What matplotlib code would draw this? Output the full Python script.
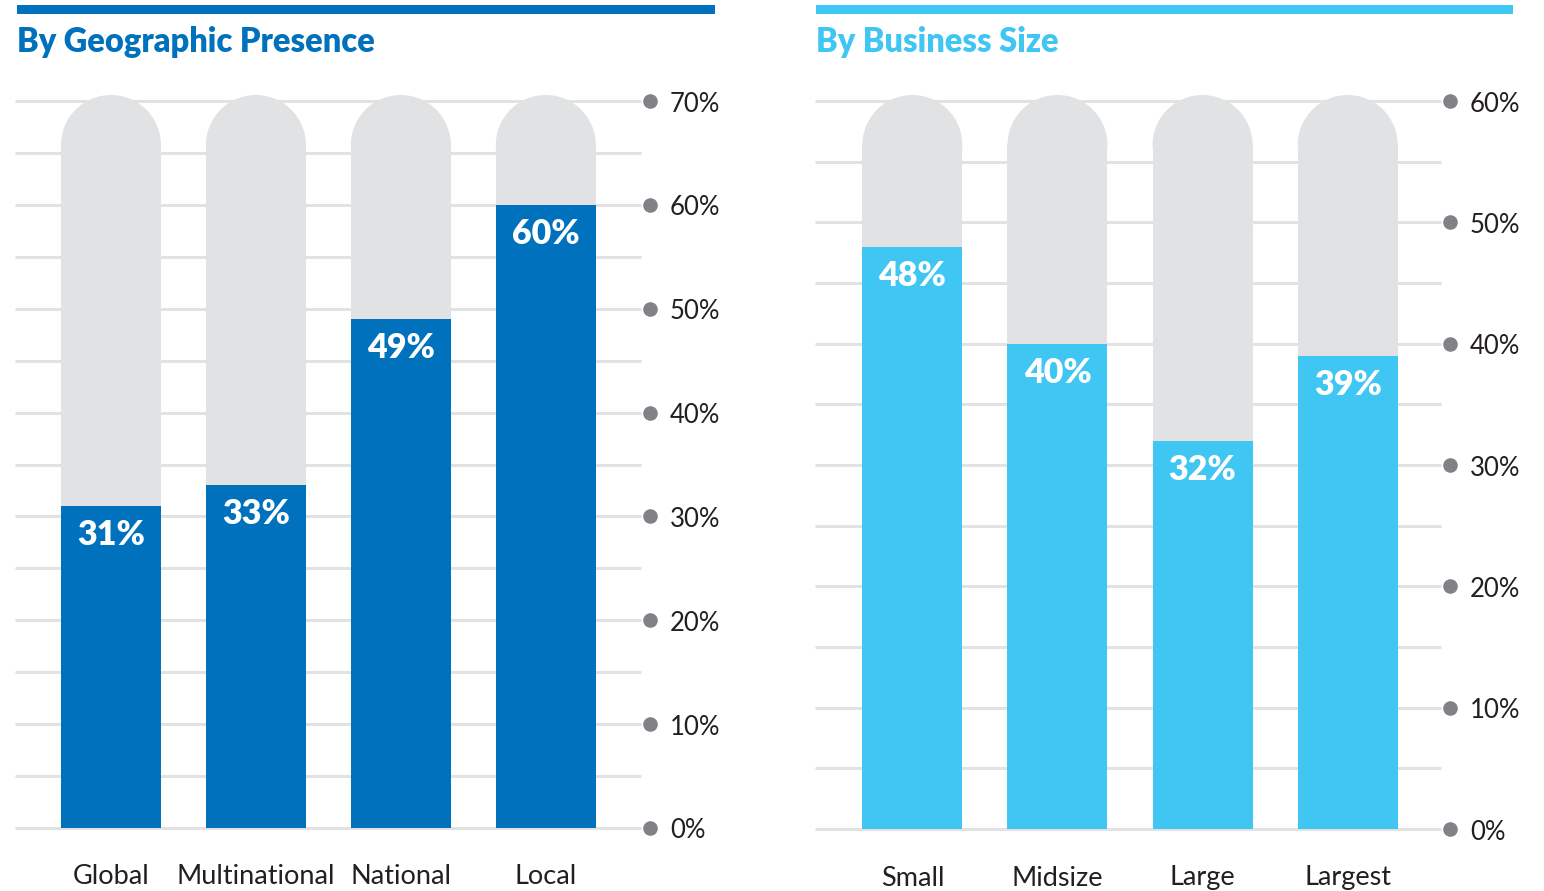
import matplotlib
matplotlib.use("Agg")
import matplotlib.pyplot as plt
from matplotlib.patches import Rectangle, Ellipse

# Data
geo_categories = ["Global", "Multinational", "National", "Local"]
geo_values = [31, 33, 49, 60]
geo_ticks = [0, 10, 20, 30, 40, 50, 60, 70]

size_categories = ["Small", "Midsize", "Large", "Largest"]
size_values = [48, 40, 32, 39]
size_ticks = [0, 10, 20, 30, 40, 50, 60]

W, H = 1544, 891
DARK_BLUE = "#0071BC"
LIGHT_BLUE = "#40C6F2"
TRACK = "#E1E2E4"
GRID = "#E2E2E2"
DOT = "#808285"
TEXT = "#231F20"
FONT = "Lato"

fig = plt.figure(figsize=(W / 100, H / 100), dpi=100)


def px_axes(x0, x1, y_top, y_bottom):
    """Axes placed by pixel edges (origin at top-left)."""
    return fig.add_axes([x0 / W, 1 - y_bottom / H, (x1 - x0) / W, (y_bottom - y_top) / H])


def panel(x0, x1, y_zero, y_max, ymax_val, cats, vals, ticks, color, title,
          band, title_x, xlim):
    ax = px_axes(x0, x1, y_max, y_zero)
    ax.set_xlim(*xlim)
    ax.set_ylim(0, ymax_val)
    ax.axis("off")

    # pixels per data unit
    px_per_x = (x1 - x0) / (xlim[1] - xlim[0])
    px_per_y = (y_zero - y_max) / ymax_val

    # horizontal grid every 5%
    g = 0
    while g <= ymax_val + 1e-9:
        ax.plot(xlim, [g, g], color=GRID, lw=2.2, zorder=0, solid_capstyle="butt",
                clip_on=False)
        g += 5

    bar_w = 100 / px_per_x
    radius_px = 50
    track_top = ymax_val + 6 / px_per_y  # apex of the rounded cap
    cap_h = radius_px / px_per_y
    for i, (c, v) in enumerate(zip(cats, vals)):
        # grey track with rounded top
        ax.add_patch(Rectangle((i - bar_w / 2, 0), bar_w, track_top - cap_h,
                               facecolor=TRACK, edgecolor="none", zorder=1, clip_on=False))
        ax.add_patch(Ellipse((i, track_top - cap_h), bar_w, 2 * cap_h,
                             facecolor=TRACK, edgecolor="none", zorder=1, clip_on=False))
        # value bar
        ax.bar(i, v, width=bar_w, color=color, zorder=2, clip_on=False)
        ax.text(i, v - 29 / px_per_y, f"{v}%", ha="center", va="center",
                color="white", fontsize=24.5, fontweight="heavy", family=FONT, zorder=3)
        ax.text(i, -49 / px_per_y, c, ha="center", va="center", color=TEXT,
                fontsize=19.5, family=FONT, clip_on=False)

    # tick dots and labels on the right
    for t in ticks:
        ax.plot([xlim[1] + 9 / px_per_x], [t], "o", color=DOT, ms=10.5, mec="none",
                clip_on=False, zorder=3)
        ax.text(xlim[1] + 29 / px_per_x, t - 3 / px_per_y, f"{t}%", ha="left",
                va="center", color=TEXT, fontsize=18.5, family=FONT, clip_on=False)

    # header band and title
    fig.patches.append(Rectangle((band[0] / W, 1 - 14 / H), (band[1] - band[0]) / W, 9 / H,
                                 transform=fig.transFigure, facecolor=color,
                                 edgecolor="none"))
    fig.text(title_x / W, 1 - 42 / H, title, ha="left", va="center", color=color,
             fontsize=23.5, fontweight="heavy", family=FONT)
    return ax


panel(15, 641, 828, 101, 70, geo_categories, geo_values, geo_ticks, DARK_BLUE,
      "By Geographic Presence", (17, 715), 17, (-0.662, 3.657))
panel(815, 1441, 829, 101, 60, size_categories, size_values, size_ticks, LIGHT_BLUE,
      "By Business Size", (816, 1513), 816, (-0.671, 3.643))

fig.savefig("out.png", dpi=100, facecolor="white")
